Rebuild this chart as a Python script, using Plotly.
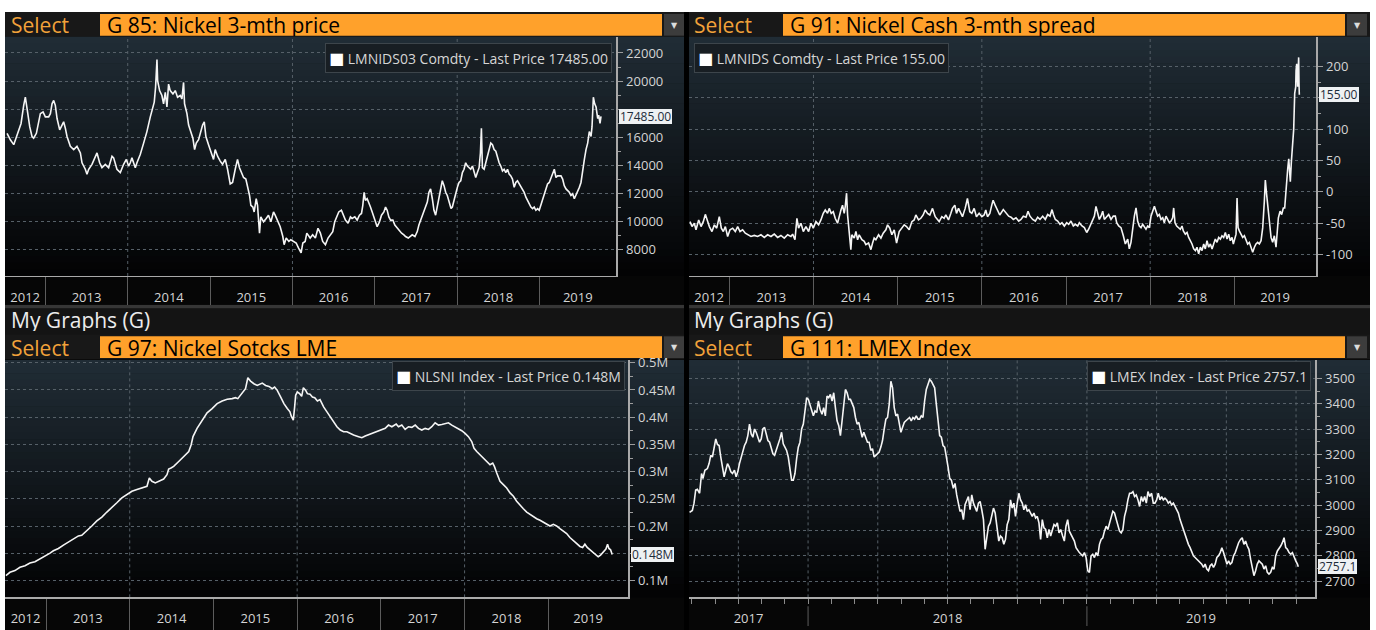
import plotly.graph_objects as go

W, H = 1376, 630
FONT = "Open Sans, DejaVu Sans, sans-serif"

# ---------------- data ----------------
# Panel 1: LMNIDS03 Comdty, nickel 3-month price (USD/t), x in decimal years
nickel_t = [
    2012.535, 2012.575, 2012.616, 2012.656, 2012.677, 2012.705, 2012.737, 2012.757, 2012.778, 2012.810,
    2012.838, 2012.858, 2012.891, 2012.919, 2012.939, 2012.972, 2013.000, 2013.040, 2013.061, 2013.081,
    2013.101, 2013.121, 2013.142, 2013.174, 2013.202, 2013.222, 2013.243, 2013.263, 2013.303, 2013.344,
    2013.384, 2013.425, 2013.445, 2013.485, 2013.505, 2013.526, 2013.566, 2013.607, 2013.627, 2013.659,
    2013.687, 2013.728, 2013.768, 2013.809, 2013.829, 2013.869, 2013.910, 2013.950, 2013.983, 2014.011,
    2014.031, 2014.051, 2014.072, 2014.092, 2014.112, 2014.152, 2014.193, 2014.233, 2014.274, 2014.306,
    2014.322, 2014.338, 2014.355, 2014.363, 2014.387, 2014.415, 2014.435, 2014.456, 2014.476, 2014.496,
    2014.516, 2014.549, 2014.577, 2014.605, 2014.638, 2014.658, 2014.678, 2014.690, 2014.719, 2014.739,
    2014.767, 2014.791, 2014.812, 2014.832, 2014.860, 2014.880, 2014.909, 2014.929, 2014.949, 2014.981,
    2015.010, 2015.042, 2015.062, 2015.091, 2015.123, 2015.151, 2015.184, 2015.212, 2015.244, 2015.273,
    2015.305, 2015.333, 2015.357, 2015.386, 2015.406, 2015.434, 2015.454, 2015.479, 2015.495, 2015.519,
    2015.535, 2015.560, 2015.576, 2015.600, 2015.616, 2015.649, 2015.681, 2015.709, 2015.738, 2015.770,
    2015.790, 2015.818, 2015.851, 2015.883, 2015.899, 2015.924, 2015.956, 2015.980, 2016.012, 2016.045,
    2016.073, 2016.105, 2016.126, 2016.154, 2016.174, 2016.215, 2016.245, 2016.278, 2016.310, 2016.339,
    2016.367, 2016.400, 2016.432, 2016.460, 2016.489, 2016.513, 2016.542, 2016.562, 2016.594, 2016.623,
    2016.643, 2016.675, 2016.704, 2016.724, 2016.757, 2016.785, 2016.813, 2016.838, 2016.854, 2016.870,
    2016.886, 2016.907, 2016.927, 2016.947, 2016.968, 2016.988, 2017.008, 2017.028, 2017.057, 2017.081,
    2017.110, 2017.130, 2017.150, 2017.170, 2017.191, 2017.219, 2017.243, 2017.272, 2017.300, 2017.325,
    2017.353, 2017.373, 2017.406, 2017.434, 2017.454, 2017.487, 2017.515, 2017.535, 2017.556, 2017.584,
    2017.609, 2017.637, 2017.657, 2017.677, 2017.698, 2017.718, 2017.738, 2017.759, 2017.779, 2017.799,
    2017.819, 2017.840, 2017.860, 2017.880, 2017.901, 2017.925, 2017.941, 2017.961, 2017.982, 2018.002,
    2018.022, 2018.043, 2018.063, 2018.083, 2018.103, 2018.124, 2018.144, 2018.164, 2018.185, 2018.205,
    2018.225, 2018.245, 2018.266, 2018.282, 2018.294, 2018.306, 2018.327, 2018.347, 2018.367, 2018.387,
    2018.408, 2018.428, 2018.448, 2018.469, 2018.489, 2018.509, 2018.529, 2018.550, 2018.570, 2018.590,
    2018.611, 2018.631, 2018.651, 2018.671, 2018.692, 2018.712, 2018.732, 2018.753, 2018.773, 2018.793,
    2018.813, 2018.834, 2018.854, 2018.874, 2018.895, 2018.915, 2018.935, 2018.955, 2018.976, 2018.996,
    2019.016, 2019.036, 2019.057, 2019.077, 2019.097, 2019.118, 2019.138, 2019.158, 2019.179, 2019.199,
    2019.219, 2019.239, 2019.260, 2019.280, 2019.300, 2019.321, 2019.341, 2019.361, 2019.381, 2019.402,
    2019.422, 2019.442, 2019.462, 2019.483, 2019.503, 2019.523, 2019.544, 2019.564, 2019.584, 2019.604,
    2019.625, 2019.637, 2019.653, 2019.669, 2019.686, 2019.706, 2019.718, 2019.734, 2019.746,
]
nickel_px = [
    16280, 15820, 15470, 16170, 16400, 16980, 18270, 18850, 18030, 16750,
    16050, 15930, 16280, 17220, 17680, 17800, 17450, 17450, 17680, 18380,
    18620, 18270, 17330, 16520, 16870, 17100, 16630, 16050, 15350, 15120,
    15350, 14880, 14180, 13720, 13370, 13720, 14070, 14650, 14880, 14180,
    13830, 14070, 13830, 14650, 14530, 13720, 13480, 14070, 14420, 13950,
    14180, 14530, 14070, 13830, 14180, 14770, 15580, 16400, 17450, 18270,
    18500, 19550, 21530, 20020, 19320, 18970, 18380, 19200, 18150, 19780,
    19320, 19080, 19320, 18850, 18970, 18730, 19900, 18380, 17680, 16870,
    16280, 15930, 15120, 15580, 15820, 16280, 16870, 17100, 16050, 15470,
    15000, 14420, 15120, 14650, 14300, 14070, 14420, 13720, 12670, 12780,
    13720, 14420, 13830, 13480, 13130, 13020, 12550, 11850, 11150, 11030,
    10680, 11620, 11150, 9170, 10330, 9980, 10220, 10450, 9980, 10680,
    10450, 10100, 9630, 8930, 8350, 8820, 8580, 8700, 8580, 8470,
    8120, 7770, 8470, 8580, 9170, 8820, 9050, 8820, 9520, 9170,
    8580, 8350, 8820, 9050, 9280, 9980, 10450, 10680, 10800, 10450,
    10100, 9870, 10330, 10220, 10330, 10100, 10450, 10570, 11150, 12080,
    11500, 11620, 11380, 11030, 10680, 10330, 9980, 9630, 9980, 10450,
    10680, 11030, 10800, 10330, 10100, 10100, 9750, 9520, 9280, 9170,
    9050, 8930, 8820, 8930, 9050, 8930, 9280, 9750, 10100, 10450,
    10920, 11380, 12080, 12320, 11620, 10800, 10450, 11150, 11620, 12200,
    12900, 12550, 12080, 11850, 11380, 10920, 11030, 11620, 11970, 12430,
    12780, 12900, 13480, 13720, 14180, 13950, 13830, 13720, 13950, 13600,
    13130, 13480, 13830, 14880, 16630, 13830, 13720, 14180, 14650, 15120,
    15580, 15470, 15120, 15000, 14530, 14180, 13950, 13600, 13720, 13480,
    13720, 13370, 13250, 13020, 12430, 12780, 12900, 12670, 12550, 12320,
    12080, 11730, 11500, 11270, 11030, 10920, 11030, 10800, 10920, 10800,
    11150, 11620, 11850, 12200, 12670, 12780, 13130, 13480, 13720, 13130,
    13250, 13250, 13250, 13020, 12550, 12320, 12200, 12080, 11850, 11970,
    11620, 11850, 12080, 12430, 12780, 13720, 14420, 15120, 15580, 16400,
    16050, 16750, 18850, 18380, 18150, 17330, 17570, 16980, 17485,
]

# Panel 2: LMNIDS Comdty, nickel cash / 3-month spread (USD/t)
spread_t = [
    2012.533, 2012.557, 2012.584, 2012.604, 2012.636, 2012.664, 2012.691, 2012.715, 2012.743, 2012.763,
    2012.794, 2012.822, 2012.850, 2012.881, 2012.905, 2012.929, 2012.953, 2012.980, 2013.008, 2013.040,
    2013.071, 2013.099, 2013.127, 2013.158, 2013.190, 2013.222, 2013.257, 2013.297, 2013.336, 2013.376,
    2013.415, 2013.455, 2013.495, 2013.534, 2013.574, 2013.613, 2013.653, 2013.693, 2013.732, 2013.752,
    2013.780, 2013.803, 2013.823, 2013.851, 2013.879, 2013.910, 2013.942, 2013.970, 2013.997, 2014.029,
    2014.061, 2014.088, 2014.116, 2014.140, 2014.167, 2014.187, 2014.211, 2014.235, 2014.258, 2014.286,
    2014.306, 2014.326, 2014.345, 2014.365, 2014.377, 2014.393, 2014.405, 2014.417, 2014.433, 2014.444,
    2014.456, 2014.484, 2014.504, 2014.524, 2014.543, 2014.575, 2014.603, 2014.622, 2014.654, 2014.682,
    2014.702, 2014.721, 2014.741, 2014.773, 2014.801, 2014.828, 2014.860, 2014.880, 2014.907, 2014.931,
    2014.959, 2014.987, 2015.018, 2015.050, 2015.078, 2015.105, 2015.137, 2015.169, 2015.196, 2015.216,
    2015.248, 2015.275, 2015.303, 2015.327, 2015.355, 2015.382, 2015.414, 2015.446, 2015.473, 2015.493,
    2015.525, 2015.552, 2015.572, 2015.604, 2015.632, 2015.651, 2015.679, 2015.699, 2015.723, 2015.750,
    2015.770, 2015.802, 2015.829, 2015.857, 2015.881, 2015.909, 2015.936, 2015.968, 2016.000, 2016.027,
    2016.047, 2016.067, 2016.095, 2016.118, 2016.134, 2016.158, 2016.186, 2016.213, 2016.255, 2016.287,
    2016.319, 2016.347, 2016.374, 2016.406, 2016.438, 2016.465, 2016.493, 2016.525, 2016.549, 2016.572,
    2016.604, 2016.636, 2016.663, 2016.691, 2016.723, 2016.754, 2016.782, 2016.810, 2016.834, 2016.850,
    2016.873, 2016.901, 2016.929, 2016.952, 2016.980, 2017.008, 2017.032, 2017.059, 2017.087, 2017.111,
    2017.139, 2017.158, 2017.190, 2017.218, 2017.246, 2017.269, 2017.297, 2017.317, 2017.337, 2017.356,
    2017.376, 2017.396, 2017.416, 2017.436, 2017.455, 2017.483, 2017.507, 2017.535, 2017.562, 2017.586,
    2017.602, 2017.626, 2017.653, 2017.681, 2017.705, 2017.733, 2017.752, 2017.772, 2017.792, 2017.812,
    2017.832, 2017.851, 2017.871, 2017.891, 2017.911, 2017.931, 2017.950, 2017.970, 2017.990, 2018.010,
    2018.030, 2018.050, 2018.069, 2018.089, 2018.109, 2018.129, 2018.149, 2018.168, 2018.188, 2018.208,
    2018.228, 2018.248, 2018.267, 2018.279, 2018.295, 2018.315, 2018.339, 2018.358, 2018.378, 2018.394,
    2018.418, 2018.438, 2018.457, 2018.477, 2018.497, 2018.517, 2018.537, 2018.556, 2018.576, 2018.596,
    2018.616, 2018.636, 2018.655, 2018.675, 2018.695, 2018.715, 2018.735, 2018.754, 2018.774, 2018.794,
    2018.814, 2018.834, 2018.853, 2018.873, 2018.893, 2018.913, 2018.933, 2018.952, 2018.972, 2018.988,
    2019.004, 2019.020, 2019.032, 2019.044, 2019.059, 2019.079, 2019.099, 2019.119, 2019.139, 2019.158,
    2019.178, 2019.198, 2019.218, 2019.238, 2019.257, 2019.277, 2019.297, 2019.317, 2019.337, 2019.356,
    2019.368, 2019.384, 2019.400, 2019.416, 2019.436, 2019.455, 2019.475, 2019.495, 2019.507, 2019.523,
    2019.543, 2019.562, 2019.582, 2019.598, 2019.610, 2019.622, 2019.634, 2019.646, 2019.653, 2019.665,
    2019.677, 2019.693, 2019.705, 2019.717, 2019.729, 2019.733, 2019.741, 2019.752, 2019.760, 2019.764,
    2019.768, 2019.772,
]
spread_px = [
    -47.4, -55.3, -50.0, -60.5, -44.7, -55.3, -47.4, -35.8, -47.4, -55.3,
    -63.2, -52.6, -57.9, -39.5, -57.9, -63.2, -55.3, -71.1, -60.5, -57.9,
    -63.2, -55.3, -63.2, -60.5, -65.8, -68.4, -71.1, -69.5, -71.1, -68.4,
    -72.6, -68.4, -71.1, -67.4, -72.6, -69.5, -73.7, -68.4, -71.1, -67.4,
    -76.3, -42.1, -57.9, -50.0, -63.2, -55.3, -63.2, -50.0, -57.9, -47.4,
    -52.6, -44.7, -34.2, -28.9, -34.2, -26.3, -34.2, -31.6, -42.1, -50.0,
    -36.8, -28.9, -21.1, -34.2, -23.7, -2.0, -36.8, -57.9, -84.2, -92.1,
    -68.4, -73.7, -63.2, -76.3, -68.4, -76.3, -78.9, -84.2, -81.6, -92.1,
    -81.6, -73.7, -76.3, -68.4, -73.7, -65.8, -60.5, -52.6, -57.9, -68.4,
    -60.5, -81.6, -63.2, -57.9, -52.6, -55.3, -60.5, -47.4, -44.7, -36.8,
    -44.7, -42.1, -36.8, -28.9, -34.2, -36.8, -26.3, -39.5, -44.7, -47.4,
    -39.5, -42.1, -36.8, -44.7, -34.2, -26.3, -21.1, -34.2, -26.3, -34.2,
    -39.5, -26.3, -10.5, -31.6, -34.2, -26.3, -39.5, -34.2, -39.5, -36.8,
    -28.9, -39.5, -34.2, -21.1, -13.2, -21.1, -28.9, -36.8, -28.2, -33.5,
    -38.7, -40.3, -43.9, -41.3, -46.5, -43.9, -38.7, -40.3, -30.8, -38.7,
    -43.9, -46.5, -40.3, -43.9, -38.7, -43.9, -36.1, -38.7, -28.2, -36.1,
    -43.9, -46.5, -51.8, -49.1, -54.4, -49.1, -51.8, -46.5, -54.4, -51.8,
    -54.4, -49.1, -54.4, -57.0, -64.8, -59.6, -51.8, -43.9, -38.7, -23.0,
    -36.1, -43.9, -38.7, -30.8, -43.9, -38.7, -36.1, -43.9, -38.7, -38.7,
    -49.1, -54.4, -57.0, -70.0, -83.1, -75.3, -91.0, -80.5, -54.4, -38.7,
    -25.6, -46.5, -54.4, -57.0, -51.8, -57.0, -59.6, -54.4, -57.0, -38.7,
    -30.8, -23.0, -30.8, -38.7, -36.1, -43.9, -41.3, -49.1, -38.7, -43.9,
    -49.1, -46.5, -41.3, -25.6, -49.1, -54.4, -57.0, -59.6, -54.4, -62.2,
    -67.4, -64.8, -72.7, -77.9, -83.1, -91.0, -93.6, -88.3, -98.8, -88.3,
    -93.6, -83.1, -91.0, -77.9, -88.3, -83.1, -91.0, -83.1, -75.3, -80.5,
    -72.7, -75.3, -70.0, -72.7, -64.8, -75.3, -67.4, -77.9, -72.7, -83.1,
    -75.3, -67.4, -9.9, -57.0, -62.2, -67.4, -72.7, -70.0, -77.9, -83.1,
    -80.5, -88.3, -96.2, -88.3, -83.1, -80.5, -83.1, -77.9, -57.0, -15.2,
    18.8, -4.7, -25.6, -54.4, -72.7, -80.5, -70.0, -88.3, -67.4, -41.3,
    -30.8, -36.1, -25.6, -25.6, -4.7, 21.4, 37.1, 52.8, 31.9, 16.2,
    47.6, 89.4, 99.8, 157.3, 167.8, 193.9, 204.4, 167.8, 209.6, 214.8,
    173.0, 155.0,
]

# Panel 3: NLSNI Index, LME nickel stocks (tonnes)
stocks_t = [
    2012.521, 2012.569, 2012.629, 2012.689, 2012.749, 2012.808, 2012.868, 2012.928, 2012.988, 2013.048,
    2013.088, 2013.148, 2013.208, 2013.267, 2013.327, 2013.387, 2013.427, 2013.487, 2013.547, 2013.607,
    2013.667, 2013.727, 2013.786, 2013.846, 2013.906, 2013.966, 2014.026, 2014.086, 2014.146, 2014.206,
    2014.234, 2014.265, 2014.305, 2014.357, 2014.405, 2014.445, 2014.465, 2014.493, 2014.525, 2014.585,
    2014.645, 2014.705, 2014.733, 2014.756, 2014.804, 2014.844, 2014.884, 2014.924, 2014.984, 2015.044,
    2015.104, 2015.164, 2015.224, 2015.263, 2015.291, 2015.323, 2015.351, 2015.383, 2015.411, 2015.443,
    2015.483, 2015.523, 2015.583, 2015.623, 2015.663, 2015.703, 2015.731, 2015.762, 2015.802, 2015.842,
    2015.882, 2015.914, 2015.930, 2015.954, 2015.970, 2015.982, 2016.002, 2016.030, 2016.054, 2016.074,
    2016.102, 2016.122, 2016.154, 2016.182, 2016.210, 2016.242, 2016.273, 2016.316, 2016.356, 2016.396,
    2016.435, 2016.475, 2016.515, 2016.555, 2016.594, 2016.634, 2016.674, 2016.734, 2016.773, 2016.813,
    2016.873, 2016.932, 2016.992, 2017.052, 2017.091, 2017.131, 2017.183, 2017.211, 2017.250, 2017.290,
    2017.330, 2017.370, 2017.410, 2017.449, 2017.489, 2017.529, 2017.569, 2017.608, 2017.648, 2017.688,
    2017.728, 2017.767, 2017.807, 2017.847, 2017.887, 2017.926, 2017.966, 2018.006, 2018.046, 2018.085,
    2018.113, 2018.145, 2018.185, 2018.225, 2018.264, 2018.304, 2018.336, 2018.356, 2018.384, 2018.423,
    2018.463, 2018.503, 2018.543, 2018.583, 2018.622, 2018.662, 2018.702, 2018.742, 2018.781, 2018.821,
    2018.861, 2018.901, 2018.940, 2018.980, 2019.020, 2019.060, 2019.099, 2019.139, 2019.179, 2019.219,
    2019.258, 2019.298, 2019.338, 2019.378, 2019.410, 2019.437, 2019.465, 2019.497, 2019.537, 2019.569,
    2019.596, 2019.624, 2019.656, 2019.688, 2019.708, 2019.724, 2019.744, 2019.763,
]
stocks_val = [
    109100, 115200, 118200, 124300, 127300, 132200, 134600, 139500, 145600, 150400,
    154700, 158900, 165000, 171100, 177200, 182000, 183200, 191100, 200200, 209400,
    216600, 225800, 233700, 242800, 251900, 258000, 264000, 267100, 270100, 273100,
    288300, 282300, 279200, 282300, 286500, 294400, 304700, 306600, 309600, 318700,
    327800, 336900, 349100, 364300, 379500, 388600, 397700, 408000, 415900, 425000,
    429900, 432900, 434100, 435900, 434100, 440200, 446300, 452400, 472400, 466300,
    461500, 458400, 462700, 458400, 456600, 452400, 455400, 449300, 437200, 425000,
    415900, 409800, 401900, 394600, 418900, 440200, 446300, 443200, 438400, 454200,
    449300, 443200, 442000, 437200, 435900, 429900, 432300, 418900, 409800, 400700,
    391600, 382500, 376400, 373400, 373400, 370300, 367300, 364300, 362400, 365500,
    369100, 373400, 376400, 379500, 385500, 382500, 387300, 382500, 385500, 377600,
    382500, 381300, 385500, 379500, 376400, 379500, 377600, 382500, 389800, 385500,
    386700, 388600, 389800, 385500, 382500, 379500, 375200, 370300, 364300, 355200,
    343000, 336900, 330900, 324800, 320500, 312600, 315700, 309600, 297400, 282300,
    276200, 270100, 261000, 254900, 245800, 237900, 231800, 225800, 221500, 218500,
    213600, 210600, 207500, 204500, 200200, 203300, 200200, 195400, 191100, 186300,
    179000, 172900, 168600, 162600, 160800, 166800, 160800, 156500, 150400, 145600,
    143700, 146800, 151600, 157700, 166800, 158900, 156500, 148000,
]

# Panel 4: LMEX Index
lmex_t = [
    2017.575, 2017.585, 2017.591, 2017.597, 2017.603, 2017.611, 2017.618, 2017.623, 2017.630, 2017.639,
    2017.645, 2017.651, 2017.657, 2017.663, 2017.669, 2017.675, 2017.681, 2017.687, 2017.693, 2017.699,
    2017.705, 2017.711, 2017.717, 2017.723, 2017.729, 2017.736, 2017.742, 2017.748, 2017.754, 2017.760,
    2017.766, 2017.772, 2017.778, 2017.784, 2017.790, 2017.796, 2017.802, 2017.808, 2017.814, 2017.820,
    2017.826, 2017.832, 2017.838, 2017.844, 2017.850, 2017.856, 2017.862, 2017.868, 2017.874, 2017.880,
    2017.886, 2017.893, 2017.899, 2017.905, 2017.911, 2017.917, 2017.923, 2017.929, 2017.935, 2017.941,
    2017.947, 2017.953, 2017.959, 2017.965, 2017.971, 2017.977, 2017.983, 2017.989, 2017.995, 2018.001,
    2018.007, 2018.013, 2018.019, 2018.025, 2018.031, 2018.037, 2018.043, 2018.050, 2018.056, 2018.062,
    2018.068, 2018.074, 2018.080, 2018.086, 2018.092, 2018.098, 2018.104, 2018.110, 2018.116, 2018.122,
    2018.128, 2018.134, 2018.140, 2018.146, 2018.152, 2018.158, 2018.164, 2018.170, 2018.176, 2018.182,
    2018.188, 2018.194, 2018.200, 2018.207, 2018.213, 2018.219, 2018.225, 2018.231, 2018.237, 2018.243,
    2018.249, 2018.255, 2018.261, 2018.267, 2018.273, 2018.279, 2018.285, 2018.291, 2018.297, 2018.303,
    2018.309, 2018.315, 2018.321, 2018.327, 2018.333, 2018.339, 2018.345, 2018.351, 2018.357, 2018.364,
    2018.370, 2018.376, 2018.382, 2018.388, 2018.394, 2018.400, 2018.406, 2018.412, 2018.418, 2018.424,
    2018.430, 2018.436, 2018.442, 2018.448, 2018.454, 2018.460, 2018.466, 2018.472, 2018.478, 2018.484,
    2018.490, 2018.496, 2018.502, 2018.508, 2018.514, 2018.521, 2018.527, 2018.533, 2018.539, 2018.545,
    2018.551, 2018.557, 2018.563, 2018.569, 2018.575, 2018.581, 2018.587, 2018.593, 2018.599, 2018.605,
    2018.611, 2018.617, 2018.623, 2018.629, 2018.635, 2018.641, 2018.647, 2018.653, 2018.659, 2018.665,
    2018.671, 2018.678, 2018.684, 2018.690, 2018.696, 2018.702, 2018.708, 2018.714, 2018.720, 2018.726,
    2018.732, 2018.738, 2018.744, 2018.750, 2018.756, 2018.762, 2018.768, 2018.774, 2018.780, 2018.786,
    2018.792, 2018.798, 2018.804, 2018.810, 2018.816, 2018.822, 2018.828, 2018.834, 2018.840, 2018.846,
    2018.852, 2018.858, 2018.864, 2018.870, 2018.876, 2018.882, 2018.888, 2018.894, 2018.900, 2018.906,
    2018.913, 2018.919, 2018.925, 2018.931, 2018.937, 2018.943, 2018.949, 2018.955, 2018.961, 2018.967,
    2018.973, 2018.979, 2018.985, 2018.991, 2018.997, 2019.003, 2019.009, 2019.015, 2019.021, 2019.027,
    2019.033, 2019.039, 2019.045, 2019.051, 2019.057, 2019.063, 2019.069, 2019.075, 2019.081, 2019.087,
    2019.093, 2019.099, 2019.105, 2019.111, 2019.117, 2019.123, 2019.129, 2019.135, 2019.141, 2019.147,
    2019.153, 2019.159, 2019.165, 2019.171, 2019.177, 2019.183, 2019.189, 2019.195, 2019.201, 2019.207,
    2019.213, 2019.219, 2019.225, 2019.232, 2019.238, 2019.244, 2019.250, 2019.256, 2019.262, 2019.268,
    2019.274, 2019.280, 2019.286, 2019.292, 2019.298, 2019.304, 2019.310, 2019.316, 2019.322, 2019.328,
    2019.334, 2019.340, 2019.346, 2019.352, 2019.358, 2019.364, 2019.370, 2019.376, 2019.382, 2019.388,
    2019.394, 2019.400, 2019.406, 2019.412, 2019.418, 2019.424, 2019.430, 2019.436, 2019.442, 2019.448,
    2019.454, 2019.460, 2019.466, 2019.472, 2019.478, 2019.484, 2019.490, 2019.496, 2019.502, 2019.508,
    2019.514, 2019.520, 2019.526, 2019.532, 2019.538, 2019.544, 2019.551, 2019.557, 2019.563, 2019.569,
    2019.575, 2019.581, 2019.587, 2019.593, 2019.599, 2019.605, 2019.611, 2019.617, 2019.623, 2019.629,
    2019.635, 2019.641, 2019.647, 2019.653, 2019.659, 2019.665, 2019.671, 2019.677, 2019.683, 2019.689,
    2019.695, 2019.701, 2019.707, 2019.713, 2019.719, 2019.725, 2019.731, 2019.737, 2019.743, 2019.749,
    2019.755, 2019.758,
]
lmex_val = [
    2971.8, 2979.6, 3008.2, 3060.2, 3062.8, 3047.2, 3125.2, 3105.7, 3138.2, 3144.7,
    3164.2, 3196.8, 3190.3, 3229.3, 3261.8, 3239.7, 3235.8, 3190.3, 3151.2, 3112.2,
    3138.2, 3164.2, 3151.2, 3131.7, 3125.2, 3138.2, 3112.2, 3131.7, 3164.2, 3190.3,
    3216.3, 3235.8, 3248.8, 3274.8, 3320.3, 3281.3, 3268.3, 3300.8, 3287.8, 3268.3,
    3248.8, 3261.8, 3300.8, 3307.3, 3281.3, 3255.3, 3248.8, 3229.3, 3203.3, 3196.8,
    3216.3, 3235.8, 3261.8, 3287.8, 3242.3, 3229.3, 3216.3, 3190.3, 3131.7, 3099.2,
    3099.2, 3125.2, 3183.7, 3229.3, 3248.8, 3300.8, 3320.3, 3385.3, 3424.3, 3417.8,
    3398.3, 3372.3, 3352.8, 3372.3, 3365.8, 3411.3, 3378.8, 3359.3, 3385.3, 3352.8,
    3430.8, 3424.3, 3437.3, 3411.3, 3443.8, 3385.3, 3333.3, 3313.8, 3274.8, 3333.3,
    3411.3, 3456.8, 3443.8, 3417.8, 3417.8, 3404.8, 3385.3, 3346.3, 3320.3, 3326.8,
    3300.8, 3268.3, 3287.8, 3268.3, 3248.8, 3248.8, 3216.3, 3222.8, 3190.3, 3196.8,
    3203.3, 3209.8, 3229.3, 3255.3, 3300.8, 3339.8, 3346.3, 3398.3, 3489.3, 3463.3,
    3385.3, 3352.8, 3359.3, 3313.8, 3287.8, 3307.3, 3326.8, 3333.3, 3339.8, 3346.3,
    3333.3, 3346.3, 3339.8, 3352.8, 3339.8, 3339.8, 3352.8, 3346.3, 3411.3, 3456.8,
    3476.3, 3495.8, 3489.3, 3476.3, 3463.3, 3398.3, 3326.8, 3274.8, 3268.3, 3235.8,
    3229.3, 3196.8, 3151.2, 3105.7, 3099.2, 3066.7, 3086.2, 3040.7, 3008.2, 2975.7,
    2982.2, 2943.2, 3001.7, 3021.2, 3034.2, 2982.2, 3040.7, 3008.2, 2988.7, 2975.7,
    3008.2, 3014.7, 2982.2, 2943.2, 2826.1, 2871.7, 2917.2, 2930.2, 2956.2, 2988.7,
    2969.2, 2917.2, 2858.6, 2878.2, 2871.7, 2845.6, 2865.2, 2923.7, 2943.2, 3021.2,
    2988.7, 3008.2, 2956.2, 3008.2, 3047.2, 3021.2, 3008.2, 2982.2, 3001.7, 2975.7,
    2982.2, 2969.2, 2956.2, 2969.2, 2949.7, 2956.2, 2930.2, 2865.2, 2943.2, 2910.7,
    2904.2, 2871.7, 2904.2, 2878.2, 2897.7, 2923.7, 2917.2, 2930.2, 2891.2, 2904.2,
    2878.2, 2858.6, 2917.2, 2943.2, 2897.7, 2884.7, 2871.7, 2858.6, 2832.6, 2819.6,
    2813.1, 2806.6, 2800.1, 2813.1, 2793.6, 2741.6, 2735.1, 2800.1, 2806.6, 2793.6,
    2813.1, 2800.1, 2845.6, 2865.2, 2871.7, 2897.7, 2917.2, 2904.2, 2930.2, 2956.2,
    2975.7, 2969.2, 2943.2, 2917.2, 2897.7, 2891.2, 2904.2, 2956.2, 2982.2, 3021.2,
    3047.2, 3047.2, 3053.7, 3034.2, 3040.7, 3021.2, 2995.2, 3034.2, 3014.7, 3034.2,
    3008.2, 3053.7, 3034.2, 3047.2, 3008.2, 3008.2, 3021.2, 3047.2, 3021.2, 3034.2,
    3021.2, 3027.7, 3021.2, 3008.2, 3014.7, 3001.7, 3008.2, 2995.2, 2982.2, 2969.2,
    2943.2, 2923.7, 2904.2, 2878.2, 2858.6, 2845.6, 2832.6, 2813.1, 2800.1, 2793.6,
    2787.1, 2780.6, 2774.1, 2767.6, 2754.6, 2767.6, 2748.1, 2741.6, 2761.1, 2767.6,
    2754.6, 2767.6, 2793.6, 2800.1, 2813.1, 2832.6, 2813.1, 2793.6, 2767.6, 2780.6,
    2767.6, 2774.1, 2800.1, 2813.1, 2832.6, 2852.1, 2865.2, 2871.7, 2845.6, 2858.6,
    2839.1, 2826.1, 2787.1, 2748.1, 2722.1, 2741.6, 2767.6, 2780.6, 2774.1, 2767.6,
    2748.1, 2761.1, 2735.1, 2728.6, 2735.1, 2754.6, 2748.1, 2800.1, 2819.6, 2832.6,
    2839.1, 2852.1, 2871.7, 2832.6, 2826.1, 2813.1, 2806.6, 2813.1, 2793.6, 2780.6,
    2767.6, 2757.1,
]

# axis tick values / labels
p1_yticks = [8000, 10000, 12000, 14000, 16000, 18000, 20000, 22000]
p2_yticks = [-100, -50, 0, 50, 100, 150, 200]
p3_yticks = [100000, 150000, 200000, 250000, 300000, 350000, 400000, 450000, 500000]
p3_ylabels = ["0.1M", "0.15M", "0.2M", "0.25M", "0.3M", "0.35M", "0.4M", "0.45M", "0.5M"]
p4_yticks = [2700, 2800, 2900, 3000, 3100, 3200, 3300, 3400, 3500]

assert len(nickel_t) == len(nickel_px)
assert len(spread_t) == len(spread_px)
assert len(stocks_t) == len(stocks_val)
assert len(lmex_t) == len(lmex_val)

# ---------------- layout geometry (pixels) ----------------
BG_TOP = (32, 44, 53)
BG_BOT = (3, 3, 4)
GRID = "#566068"
AXIS = "#a9a9a9"
TICKC = "#9c9c9c"
LABEL = "#d4d4d4"
ORANGE = "#ffa12b"
SELECT_ORANGE = "#f2a23a"

panels = [
    dict(t=nickel_t, v=nickel_px, pl=5, pr=616, pt=30, pb=272, left=5, right=684, lb=301,
         head=(5, 30), mygraphs=None, box=(100, 662), dd=(664, 684), selx=9,
         title="G 85: Nickel 3-mth price", xr=(2012.51, 2019.928), yr=(6120, 23160),
         yt=p1_yticks, ytx=[str(v) for v in p1_yticks], yminor=1000,
         leg_name="LMNIDS03 Comdty", leg_x=612, leg_anchor="right", leg_y=36,
         last_fmt=lambda v: f"{v:.2f}", vgrid=[2014, 2016, 2018], monthly=False),
    dict(t=spread_t, v=spread_px, pl=689, pr=1316, pt=30, pb=272, left=689, right=1370, lb=301,
         head=(5, 30), mygraphs=None, box=(783, 1345), dd=(1347, 1367), selx=692,
         title="G 91: Nickel Cash 3-mth spread", xr=(2012.521, 2019.97), yr=(-134.2, 247.9),
         yt=p2_yticks, ytx=[str(v) for v in p2_yticks], yminor=25,
         leg_name="LMNIDS Comdty", leg_x=694, leg_anchor="left", leg_y=36,
         last_fmt=lambda v: f"{v:.2f}", vgrid=[2014, 2016, 2018], monthly=False),
    dict(t=stocks_t, v=stocks_val, pl=5, pr=628, pt=357, pb=597, left=5, right=684, lb=630,
         head=(331, 356), mygraphs=(305, 331), box=(100, 662), dd=(664, 684), selx=9,
         title="G 97: Nickel Sotcks LME", xr=(2012.51, 2019.952), yr=(69100, 505000),
         yt=p3_yticks, ytx=p3_ylabels, yminor=25000,
         leg_name="NLSNI Index", leg_x=625, leg_anchor="right", leg_y=358,
         last_fmt=lambda v: f"{v / 1e6:.3f}M", vgrid=[2014, 2016, 2018], monthly=False),
    dict(t=lmex_t, v=lmex_val, pl=689, pr=1315, pt=357, pb=597, left=689, right=1370, lb=630,
         head=(331, 356), mygraphs=(305, 331), box=(783, 1345), dd=(1347, 1367), selx=692,
         title="G 111: LMEX Index", xr=(2017.573, 2019.818), yr=(2636.4, 3573),
         yt=p4_yticks, ytx=[str(v) for v in p4_yticks], yminor=50,
         leg_name="LMEX Index", leg_x=1311, leg_anchor="right", leg_y=358,
         last_fmt=lambda v: f"{v:.1f}", vgrid=[2017.75, 2018.0, 2018.25, 2018.5, 2018.75,
                                                 2019.0, 2019.25, 2019.5, 2019.75], monthly=True),
]


def fx(px):
    return px / W


def fy(py):
    return 1 - py / H


fig = go.Figure()
shapes = []
annotations = []
layout = {}


def rect(x0, y0, x1, y1, color):
    shapes.append(dict(type="rect", xref="paper", yref="paper", x0=fx(x0), x1=fx(x1),
                       y0=fy(y1), y1=fy(y0), fillcolor=color, line=dict(width=0), layer="below"))


def text(x, y, s, size, color, xanchor="left", height=None, **kw):
    a = dict(xref="paper", yref="paper", x=fx(x), y=fy(y), text=s, showarrow=False,
             xanchor=xanchor, yanchor="middle", font=dict(family=FONT, size=size, color=color), **kw)
    if height:
        a["height"] = height
    annotations.append(a)


# global dark backdrop for the four panels and separators
rect(5, 5, 1370, 630, "#0b0b0b")
rect(5, 301, 1370, 305, "#363636")
rect(684, 5, 689, 630, "#000000")

NB = 36
for i, p in enumerate(panels):
    n = "" if i == 0 else str(i + 1)
    # header rows
    if p["mygraphs"]:
        rect(p["left"], p["mygraphs"][0], p["right"], p["mygraphs"][1], "#141414")
        text(p["selx"], (p["mygraphs"][0] + p["mygraphs"][1]) / 2 - 1.5, "My Graphs (G)", 21,
             "#ececec", height=22)
    h0, h1 = p["head"]
    rect(p["left"], h0, p["right"], h1, "#181818")
    rect(p["box"][0], h0 + 2, p["box"][1], h1 - 1, ORANGE)
    rect(p["dd"][0], h0 + 2, p["dd"][1], h1 - 1, "#3c3c3c")
    text((p["dd"][0] + p["dd"][1]) / 2, (h0 + h1) / 2, "▼", 8, "#dcdcdc", xanchor="center")
    text(p["selx"], (h0 + h1) / 2 + 1, "Select", 21, SELECT_ORANGE, height=22)
    text(p["box"][0] + 5, (h0 + h1) / 2 + 1, p["title"], 21, "#000000", height=22)

    # gradient plot background
    span = p["pb"] - p["pt"]
    for b in range(NB):
        f = b / (NB - 1)
        c = tuple(round(BG_TOP[k] + (BG_BOT[k] - BG_TOP[k]) * f) for k in range(3))
        rect(p["left"], p["pt"] + span * b / NB, p["right"], p["pt"] + span * (b + 1) / NB + 0.6,
             "rgb(%d,%d,%d)" % c)
    rect(p["left"], p["pb"], p["right"], p["lb"], "#060606")

    # vertical dotted grid lines
    for g in p["vgrid"]:
        shapes.append(dict(type="line", xref="x" + n, yref=("y" + n + " domain"), x0=g, x1=g,
                           y0=0, y1=1, line=dict(color=GRID, width=1, dash="dot"), layer="below"))

    # year tick layout: labels centred on the visible part of each year
    x0, x1 = p["xr"]
    centers, labels, bounds = [], [], []
    for yr in range(int(x0), int(x1) + 1):
        a, b = max(yr, x0), min(yr + 1, x1)
        if b - a > 0.15:
            centers.append((a + b) / 2)
            labels.append(str(yr))
        if x0 < yr < x1:
            bounds.append(yr)

    if p["monthly"]:
        minor_vals = [yr + m / 12 for yr in range(int(x0), int(x1) + 1) for m in range(12)
                      if x0 < yr + m / 12 < x1]
        minor = dict(tickmode="array", tickvals=minor_vals, ticks="outside", ticklen=5,
                     tickcolor="#8a8a8a", tickwidth=1, showgrid=False)
        for yb in bounds:
            shapes.append(dict(type="line", xref="x" + n, yref="paper", x0=yb, x1=yb,
                               y0=fy(626), y1=fy(606), line=dict(color="#5c5c5c", width=1)))
    else:
        minor = dict(tickmode="array", tickvals=bounds, ticks="outside", ticklen=p["lb"] - p["pb"] - 1,
                     tickcolor="#5c5c5c", tickwidth=1, showgrid=False)

    layout["xaxis" + n] = dict(
        domain=[fx(p["pl"]), fx(p["pr"])], range=list(p["xr"]), anchor="y" + n,
        tickmode="array", tickvals=centers, ticktext=labels, ticks="", showgrid=False,
        zeroline=False, showline=True, linecolor=AXIS, linewidth=1.5,
        tickfont=dict(family=FONT, size=13, color=LABEL), ticklabelstandoff=9,
        minor=minor, fixedrange=True,
    )

    # the last-price tag sits on top of the nearest value label (as in the reference)
    last_v = p["v"][-1]
    yspan = p["yr"][1] - p["yr"][0]
    ytext = ["" if abs(tv - last_v) < 0.035 * yspan else tx for tv, tx in zip(p["yt"], p["ytx"])]
    ymid = [v + p["yminor"] for v in p["yt"][:-1]]
    layout["yaxis" + n] = dict(
        domain=[fy(p["pb"]), fy(p["pt"])], range=list(p["yr"]), anchor="x" + n, side="right",
        tickmode="array", tickvals=p["yt"], ticktext=ytext, ticks="outside", ticklen=5,
        tickcolor=TICKC, showline=True, linecolor=AXIS, linewidth=1.5,
        showgrid=True, gridcolor=GRID, griddash="dot", gridwidth=1, zeroline=False,
        tickfont=dict(family=FONT, size=13, color=LABEL), ticklabelstandoff=1,
        minor=dict(tickmode="array", tickvals=ymid, ticks="outside", ticklen=3,
                   tickcolor=TICKC, showgrid=False),
        fixedrange=True,
    )

    fig.add_trace(go.Scatter(x=p["t"], y=p["v"], mode="lines", xaxis="x" + n, yaxis="y" + n,
                             line=dict(color="#f5f5f5", width=1.6), hoverinfo="skip",
                             showlegend=False))

    last = p["last_fmt"](last_v)
    # legend-like box
    annotations.append(dict(
        xref="paper", yref="paper", x=fx(p["leg_x"]), y=fy(p["leg_y"]), xanchor=p["leg_anchor"],
        yanchor="top", showarrow=False,
        text="<span style='color:#ffffff;font-size:16px'>■</span> " + p["leg_name"]
             + " - Last Price " + last,
        font=dict(family=FONT, size=14, color="#d6d6d6"), bgcolor="rgb(24,30,35)",
        bordercolor="#3d454b", borderwidth=1, borderpad=3))
    # last price tag on the value axis
    annotations.append(dict(
        xref="x" + n + " domain", yref="y" + n, x=1, y=last_v, xanchor="left", yanchor="middle",
        xshift=3, showarrow=False, text=last, height=13,
        font=dict(family=FONT, size=12, color="#1d2c3a"), bgcolor="#eef1f3",
        bordercolor="#ffffff", borderwidth=0, borderpad=1))

fig.update_layout(
    width=W, height=H, autosize=False, margin=dict(l=0, r=0, t=0, b=0, pad=0),
    paper_bgcolor="#ffffff", plot_bgcolor="rgba(0,0,0,0)",
    shapes=shapes, annotations=annotations, showlegend=False, hovermode=False,
    font=dict(family=FONT, color=LABEL),
    **layout,
)

fig.write_html("out.html", config={"displayModeBar": False, "staticPlot": True},
               post_script="document.body.style.margin='0';document.body.style.overflow='hidden';")
